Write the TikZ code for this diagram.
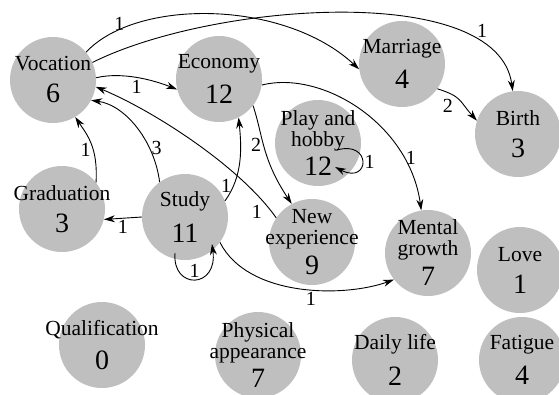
\documentclass[tikz,border=0pt]{standalone}
\usepackage{fontspec}
\setmainfont{Liberation Serif}
\usetikzlibrary{arrows.meta}

\newcommand\tally[1]{{\fontsize{28}{28}\selectfont #1}}

\begin{document}
\begin{tikzpicture}[x=1pt, y=-1pt,
  topic/.style={circle, fill=black!25, minimum size=86pt, inner sep=0pt},
  topictext/.style={align=center, inner sep=0pt, font=\fontsize{21.5}{21}\selectfont},
  link/.style={-{Stealth[length=11pt, width=7pt]}, line width=0.9pt},
  weight/.style={font=\fontsize{20}{20}\selectfont, inner sep=2pt}]

\useasboundingbox (0,0) rectangle (559,394);

\foreach \nm/\x/\y/\txt in {
  voc/53/80/{Vocation\\[11pt]\tally{6}},
  eco/219/79/{Economy\\[11pt]\tally{12}},
  mar/402/64/{Marriage\\[11pt]\tally{4}},
  bir/518/134/{Birth\\[11pt]\tally{3}},
  ph/318/143/{Play and\\hobby\\[4pt]\tally{12}},
  grad/62/209/{Graduation\\[11pt]\tally{3}},
  stu/185/217/{Study\\[11pt]\tally{11}},
  nex/312/242/{New\\experience\\[6pt]\tally{9}},
  mg/428/253/{Mental\\growth\\[6pt]\tally{7}},
  love/520/270/{Love\\[11pt]\tally{1}},
  qual/102/345/{Qualification\\[11pt]\tally{0}},
  phys/258/355/{Physical\\appearance\\[5pt]\tally{7}},
  daily/395/360/{Daily life\\[11pt]\tally{2}},
  fat/522/360/{Fatigue\\[11pt]\tally{4}}}
{
  \node[topic] (\nm) at (\x,\y) {};
  \node[topictext] at (\nm) {\txt};
}

% edges out of Vocation
\draw[link] (voc.40) .. controls +(50,-54) and +(-75,-70) .. (mar.187) node[weight, pos=.17, above=-3pt] {1};
\draw[link] (voc.24) .. controls +(120,-60) and +(-15,-110) .. (bir.97) node[weight, pos=.8, above right] {1};
\draw[link] (voc.3) .. controls +(25,-6) and +(-25,-10) .. (eco.194) node[weight, pos=.5, below] {1};

\draw[link] (mar.-35) .. controls +(25,8) and +(-18,-20) .. (bir.162) node[weight, pos=.35, below left] {2};
\draw[link] (eco.-38) .. controls +(10,30) and +(-30,-45) .. (nex.118) node[weight, pos=.45, left] {2};
\draw[link] (eco.-8) .. controls +(60,-15) and +(-12,-87) .. (mg.99) node[weight, pos=.78, right] {1};
\draw[link] ([shift={(19,7)}]ph.center) .. controls +(35,-10) and +(35,18) .. ([shift={(17,24)}]ph.center) node[weight, pos=.5, right] {1};

% edges into Vocation
\draw[link] (grad.38) .. controls +(2,-35) and +(12,18) .. (voc.-59) node[weight, pos=.4, left] {1};
\draw[link] (stu.126) .. controls +(-5,-40) and +(35,5) .. (voc.-28) node[weight, pos=.3, right] {3};
\draw[link] (nex.146) .. controls +(-35,-50) and +(60,25) .. (voc.-9) node[weight, pos=.1, below left] {1};

% edges out of Study
\draw[link] (stu.22) .. controls +(18,-25) and +(3,30) .. (eco.-63) node[weight, pos=.2, left] {1};
\draw[link] (stu.west) -- (grad.-14) node[weight, midway, below] {1};
\draw[link] ([shift={(-10,36)}]stu.center) .. controls +(-3,37) and +(6,45) .. ([shift={(27,27)}]stu.center) node[weight, pos=.5, above=-1pt] {1};
\draw[link] (stu.-36) .. controls +(28,55) and +(-50,18) .. (mg.218) node[weight, pos=.56, below] {1};
\end{tikzpicture}
\end{document}
